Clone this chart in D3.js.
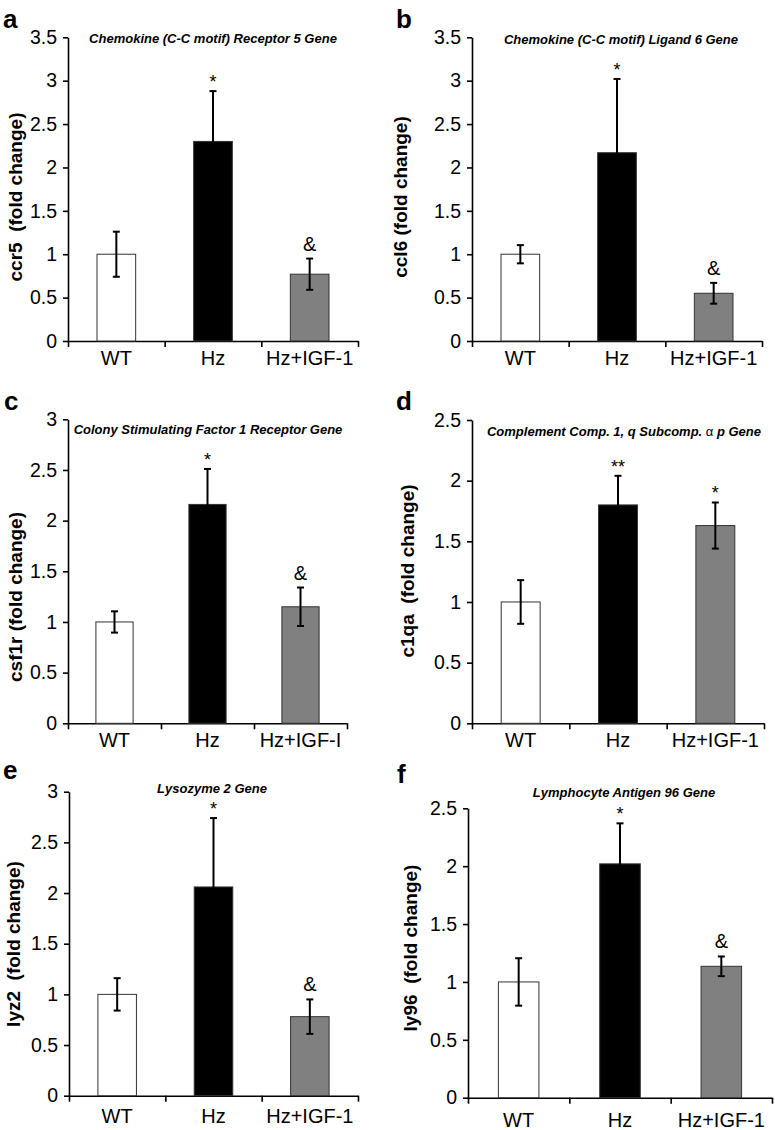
<!DOCTYPE html>
<html>
<head>
<meta charset="utf-8">
<script src="https://cdn.jsdelivr.net/npm/d3@7/dist/d3.min.js"></script>
<style>
body { margin: 0; background: #fff; }
svg { font-family: "Liberation Sans", Arial, sans-serif; }
</style>
</head>
<body>
<div id="chart"></div>
<script>
// groups on the x axis (panel c spells it IGF-I)
var groups = ["WT", "Hz", "Hz+IGF-1"];
var groupsC = ["WT", "Hz", "Hz+IGF-I"];

var letters = ["a", "b", "c", "d", "e", "f"];
var titles = [
    "Chemokine (C-C motif) Receptor 5 Gene",
    "Chemokine (C-C motif) Ligand 6 Gene",
    "Colony Stimulating Factor 1 Receptor Gene",
    "Complement Comp. 1, q Subcomp. α p Gene",
    "Lysozyme 2 Gene",
    "Lymphocyte Antigen 96 Gene"
];
var yLabels = [
    "ccr5  (fold change)",
    "ccl6 (fold change)",
    "csf1r (fold change)",
    "c1qa  (fold change)",
    "lyz2  (fold change)",
    "ly96  (fold change)"
];
var yMax = [3.5, 3.5, 3, 2.5, 3, 2.5];

// fold change (mean) and error per group
var ccr5 = [1.0, 2.30, 0.77],  ccr5Err = [0.26, 0.58, 0.18];
var ccl6 = [1.0, 2.17, 0.55],  ccl6Err = [0.105, 0.85, 0.12];
var csf1r = [1.0, 2.16, 1.15], csf1rErr = [0.105, 0.35, 0.19];
var c1qa = [1.0, 1.80, 1.63],  c1qaErr = [0.18, 0.24, 0.19];
var lyz2 = [1.0, 2.06, 0.78],  lyz2Err = [0.16, 0.68, 0.17];
var ly96 = [1.0, 2.02, 1.135], ly96Err = [0.205, 0.35, 0.085];

// significance marks above each bar
var marksA = ["", "*", "&"];
var marksD = ["", "**", "*"];

var colors = ["#ffffff", "#000000", "#808080"];

var svg = d3.select("#chart").append("svg")
    .attr("width", 775)
    .attr("height", 1130);

// where each panel sits on the page
var layout = [
    {x0: 68,  x1: 358, yb: 341,    yt: 37.3,  lx: 3,   ly: 28,  tx: 213, ty: 43,  yl: [15, 197],  xdy: 24},
    {x0: 472, x1: 762, yb: 341,    yt: 37.3,  lx: 396, ly: 28,  tx: 621, ty: 44,  yl: [400, 197], xdy: 24},
    {x0: 68,  x1: 347, yb: 723.3,  yt: 419.3, lx: 4,   ly: 410, tx: 208, ty: 434, yl: [15, 597],  xdy: 24},
    {x0: 472, x1: 764, yb: 723.3,  yt: 420,   lx: 396, ly: 410, tx: 624, ty: 436, yl: [407, 571], xdy: 24},
    {x0: 69,  x1: 358, yb: 1095.7, yt: 791.7, lx: 3,   ly: 779, tx: 212, ty: 793, yl: [13, 944],  xdy: 27},
    {x0: 468, x1: 772, yb: 1097.7, yt: 808.3, lx: 397, ly: 783, tx: 624, ty: 797, yl: [410, 948], xdy: 29}
];

var panels = [
    {vals: ccr5, err: ccr5Err, cats: groups, marks: marksA},
    {vals: ccl6, err: ccl6Err, cats: groups, marks: marksA},
    {vals: csf1r, err: csf1rErr, cats: groupsC, marks: marksA},
    {vals: c1qa, err: c1qaErr, cats: groups, marks: marksD},
    {vals: lyz2, err: lyz2Err, cats: groups, marks: marksA},
    {vals: ly96, err: ly96Err, cats: groups, marks: marksA}
];

panels.forEach(function(p, i) {
    var L = layout[i];
    var g = svg.append("g");

    var x = d3.scaleBand().domain(p.cats).range([L.x0, L.x1]);
    var xLin = d3.scaleLinear().domain([0, 3]).range([L.x0, L.x1]);
    var y = d3.scaleLinear().domain([0, yMax[i]]).range([L.yb, L.yt]);

    var ticks = d3.range(0, yMax[i] + 0.01, 0.5);
    var yAxis = g.append("g")
        .attr("transform", "translate(" + L.x0 + ",0)")
        .call(d3.axisLeft(y).tickValues(ticks).tickFormat(d3.format("")).tickSize(5).tickSizeOuter(0).tickPadding(6));
    yAxis.selectAll("text").style("font-size", "19.5px").attr("fill", "#000");

    g.append("g")
        .attr("transform", "translate(0," + L.yb + ")")
        .call(d3.axisBottom(xLin).tickValues([0, 1, 2, 3]).tickFormat("").tickSize(6).tickSizeOuter(0));

    g.selectAll(".domain, .tick line").attr("stroke", "#000").attr("stroke-width", 1.6);

    // bars
    var bw = x.bandwidth() * 0.4;
    g.selectAll("rect.bar").data(p.vals).enter().append("rect")
        .attr("class", "bar")
        .attr("x", function(d, j) { return x(p.cats[j]) + x.bandwidth() / 2 - bw / 2; })
        .attr("y", function(d) { return y(d); })
        .attr("width", bw)
        .attr("height", function(d) { return L.yb - y(d); })
        .attr("fill", function(d, j) { return colors[j]; })
        .attr("stroke", "#333")
        .attr("stroke-width", 1);

    // error bars
    var cx = function(j) { return x(p.cats[j]) + x.bandwidth() / 2; };
    p.vals.forEach(function(v, j) {
        var hi = y(v + p.err[j]), lo = y(v - p.err[j]);
        g.append("line").attr("x1", cx(j)).attr("x2", cx(j)).attr("y1", hi).attr("y2", lo)
            .attr("stroke", "#000").attr("stroke-width", 2);
        [hi, lo].forEach(function(yy) {
            g.append("line").attr("x1", cx(j) - 3.5).attr("x2", cx(j) + 3.5).attr("y1", yy).attr("y2", yy)
                .attr("stroke", "#000").attr("stroke-width", 2);
        });
        var m = p.marks[j];
        if (m) {
            g.append("text")
                .attr("x", cx(j))
                .attr("y", hi - (m === "&" ? 8 : 3))
                .attr("text-anchor", "middle")
                .style("font-size", m === "&" ? "20px" : "18px")
                .text(m);
        }
    });

    // x labels
    g.selectAll("text.xl").data(p.cats).enter().append("text")
        .attr("class", "xl")
        .attr("x", function(d) { return x(d) + x.bandwidth() / 2; })
        .attr("y", L.yb + L.xdy)
        .attr("text-anchor", "middle")
        .style("font-size", "20px")
        .text(function(d) { return d; });

    // y label
    g.append("text")
        .attr("transform", "translate(" + (L.yl[0] + 7) + "," + L.yl[1] + ") rotate(-90)")
        .attr("text-anchor", "middle")
        .style("font-size", "19px")
        .style("font-weight", "bold")
        .style("white-space", "pre")
        .text(yLabels[i]);

    // panel letter
    g.append("text")
        .attr("x", L.lx)
        .attr("y", L.ly)
        .style("font-size", "26px")
        .style("font-weight", "bold")
        .text(letters[i]);

    // gene title, alpha set upright
    var t = g.append("text")
        .attr("x", L.tx)
        .attr("y", L.ty)
        .attr("text-anchor", "middle")
        .style("font-size", "13px")
        .style("font-weight", "bold")
        .style("font-style", "italic")
        .style("white-space", "pre");
    var parts = titles[i].split("α");
    parts.forEach(function(s, k) {
        if (k > 0) t.append("tspan").style("font-weight", "normal").style("font-style", "normal").text("α");
        t.append("tspan").text(s);
    });
});
</script>
</body>
</html>
